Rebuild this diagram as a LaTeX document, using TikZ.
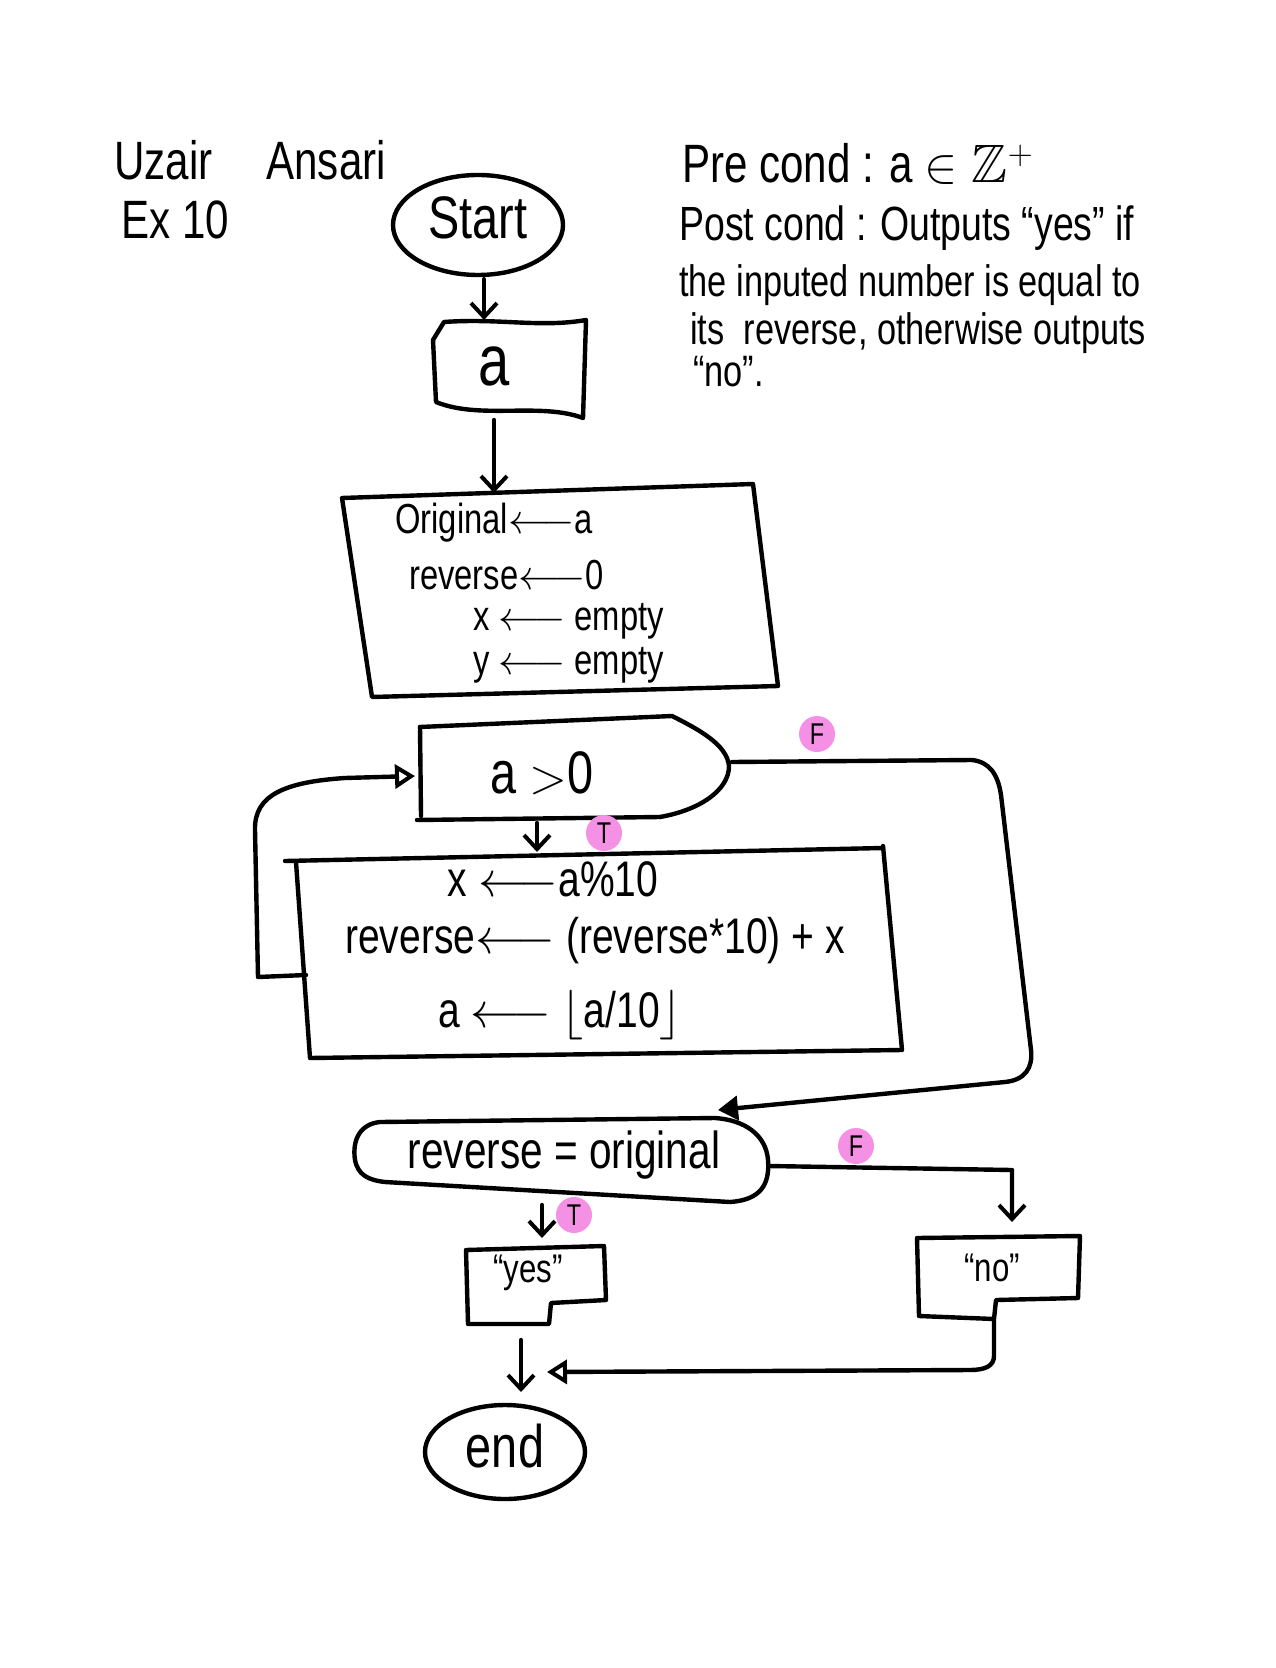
\documentclass[tikz,border=0pt]{standalone}
\usepackage{amssymb}
\usepackage{fontspec}
\setmainfont[FakeStretch=0.78]{Liberation Sans}
\usetikzlibrary{arrows.meta,shapes.geometric}
\definecolor{badgepink}{RGB}{245,145,228}
\begin{document}
\begin{tikzpicture}[x=0.5pt,y=-0.5pt,line width=2.2pt,line cap=round,line join=round,
  txt/.style={inner sep=0pt},
  vhead/.style={-{Straight Barb[length=7pt,width=13pt,line width=2pt]}},
  openhead/.style={-{Triangle[open,length=10pt,width=12pt,line width=2pt]}},
  fillhead/.style={-{Triangle[length=10pt,width=12pt]}},
  badge/.style={circle,fill=badgepink,inner sep=0pt,minimum size=18pt,font=\fontsize{15}{15}\selectfont},
  term/.style={draw,ellipse,inner sep=0pt}]
\useasboundingbox (0,0) rectangle (1275,1668);

% header texts
\node[txt,anchor=west,font=\fontsize{27}{30}\selectfont] (name) at (112,160) {Uzair\quad Ansari};
\node[txt,anchor=west,font=\fontsize{27}{30}\selectfont] (ex) at (119,220) {Ex 10};
\node[txt,anchor=west,font=\fontsize{27}{30}\selectfont] (pre) at (680,164) {Pre cond : a $\in \mathbb{Z}^{+}$};
\node[txt,anchor=west,font=\fontsize{24}{28}\selectfont] (post1) at (677,228) {Post cond : Outputs “yes” if};
\node[txt,anchor=west,font=\fontsize{22}{26}\selectfont] (post2) at (677,285) {the inputed number is equal to};
\node[txt,anchor=west,font=\fontsize{22}{26}\selectfont] (post3) at (688,333) {its \ reverse, otherwise outputs};
\node[txt,anchor=west,font=\fontsize{22}{26}\selectfont] (post4) at (691,372) {“no”.};

% start
\node[term,minimum width=85pt,minimum height=50pt] (start) at (478,225) {};
\node[txt,font=\fontsize{30}{32}\selectfont] (starttxt) at (478,218) {Start};

% input a
\draw (433,340) -- (444,322) .. controls (500,318) and (540,328) .. (586,320)
  -- (583,418) .. controls (540,402) and (480,420) .. (436,402) -- cycle;
\coordinate (inTop) at (484,320);
\coordinate (inBot) at (494,420);
\node[txt,font=\fontsize{36}{36}\selectfont] (atxt) at (494,366) {a};

% init box
\draw (342,498) -- (753,484) -- (778,686) -- (372,697) -- cycle;
\coordinate (initTop) at (494,493);
\node[txt,anchor=west,font=\fontsize{21}{23}\selectfont] (l1) at (393,523) {Original$\longleftarrow$a};
\node[txt,anchor=west,font=\fontsize{21}{23}\selectfont] (l2) at (407,575) {reverse$\longleftarrow$0};
\node[txt,anchor=west,font=\fontsize{21}{23}\selectfont] (l3) at (471,621) {x $\longleftarrow$ empty};
\node[txt,anchor=west,font=\fontsize{21}{23}\selectfont] (l4) at (471,665) {y $\longleftarrow$ empty};

% decision a>0
\draw (420,727) -- (672,716) .. controls (700,730) and (727,745) .. (729,766)
  .. controls (729,790) and (700,810) .. (660,817);
\draw (420,727) -- (421,816);
\draw (417,820) -- (660,817);
\coordinate (d1Left) at (415,776);
\coordinate (d1Right) at (732,762);
\coordinate (d1Bot) at (537,823);
\node[txt,font=\fontsize{30}{32}\selectfont] (cond1) at (542,773) {a $>$0};

% process box
\draw (285,861) -- (883,848);
\draw (296,862) -- (310,1058) -- (902,1050) -- (883,846);
\coordinate (procTop) at (537,852);
\coordinate (procLeft) at (306,975);
\node[txt,font=\fontsize{25}{27}\selectfont] (p1) at (553,879) {x $\longleftarrow$a\%10};
\node[txt,font=\fontsize{25}{27}\selectfont] (p2) at (595,941) {reverse$\longleftarrow$ (reverse*10) + x};
\node[txt,font=\fontsize{25}{27}\selectfont] (p3) at (560,1015) {a $\longleftarrow$ $\lfloor$a/10$\rfloor$};

% decision reverse = original
\draw (380,1122) .. controls (360,1124) and (352,1140) .. (355,1160)
  .. controls (358,1175) and (368,1180) .. (385,1182) -- (730,1202)
  .. controls (760,1200) and (770,1185) .. (768,1160)
  .. controls (766,1135) and (745,1120) .. (715,1118) -- cycle;
\coordinate (d2Top) at (718,1110);
\coordinate (d2Right) at (769,1166);
\coordinate (d2Bot) at (542,1205);
\node[txt,font=\fontsize{26}{28}\selectfont] (cond2) at (564,1155) {reverse = original};

% output yes
\draw (466,1250) -- (604,1246) -- (606,1300) -- (551,1303) -- (549,1324) -- (468,1324) -- cycle;
\coordinate (yesTop) at (542,1238);
\coordinate (yesBot) at (521,1340);
\node[txt,font=\fontsize{20}{22}\selectfont] (yestxt) at (528,1273) {“yes”};

% output no
\draw (917,1238) -- (1080,1236) -- (1078,1298) -- (996,1300) -- (994,1319) -- (919,1316) -- cycle;
\coordinate (noTop) at (1012,1222);
\coordinate (noBot) at (994,1321);
\node[txt,font=\fontsize{20}{22}\selectfont] (notxt) at (992,1268) {“no”};

% end
\node[term,minimum width=80pt,minimum height=47pt] (end) at (505,1452) {};
\node[txt,font=\fontsize{30}{32}\selectfont] (endtxt) at (505,1446) {end};
\coordinate (endTop) at (521,1392);
\coordinate (endSide) at (547,1372);

% connectors
\draw[vhead] (start.south) ++(6,2) coordinate (sB) -- (inTop);
\draw[vhead] (inBot) -- (initTop);
\draw[vhead] (d1Bot) -- (procTop);
\draw[openhead] (procLeft) -- (258,977) -- (255,830)
  .. controls (254,795) and (285,782) .. (345,778) -- (d1Left);
\draw[fillhead] (d1Right) -- (972,760) .. controls (990,762) and (998,775) .. (1001,795)
  -- (1031,1050) .. controls (1033,1068) and (1025,1080) .. (1005,1082) -- (d2Top);
\draw[vhead] (d2Right) -- (1012,1170) -- (noTop);
\draw[vhead] (d2Bot) -- (yesTop);
\draw[vhead] (yesBot) -- (endTop);
\draw[openhead] (noBot) -- (994,1356) .. controls (994,1366) and (985,1370) .. (970,1370) -- (endSide);

% badges
\node[badge] (F1) at (817,734) {F};
\node[badge] (T1) at (604,833) {T};
\node[badge] (F2) at (856,1146) {F};
\node[badge] (T2) at (574,1215) {T};
\end{tikzpicture}
\end{document}
